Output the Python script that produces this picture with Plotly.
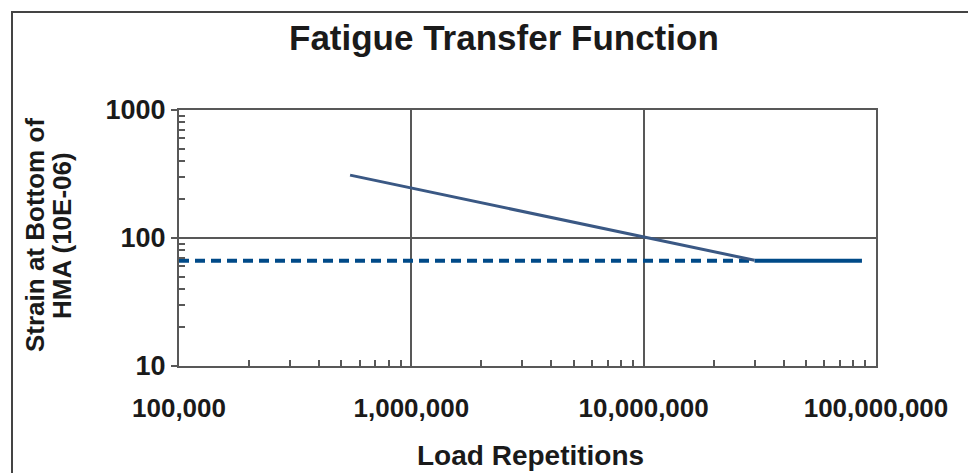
import plotly.graph_objects as go

# Data
load_sloped = [5.45e5, 3.0e7]
strain_sloped = [310, 67]
load_dashed = [1e5, 3.0e7]
strain_dashed = [66.5, 66.5]
load_limit = [3.0e7, 8.7e7]
strain_limit = [66.5, 66.5]

x_tickvals = [1e5, 1e6, 1e7, 1e8]
x_ticktext = ["100,000", "1,000,000", "10,000,000", "100,000,000"]
y_tickvals = [10, 100, 1000]
y_ticktext = ["10", "100", "1000"]

FONT = "Liberation Sans, Arial, sans-serif"
AX = "#585858"
TXT = "#1a1a1a"

x_minor = [m * 10 ** e for e in range(5, 8) for m in range(2, 10)]
y_minor = [m * 10 ** e for e in range(1, 3) for m in range(2, 10)]

fig = go.Figure()
fig.add_trace(go.Scatter(x=load_dashed, y=strain_dashed, mode="lines",
                         line=dict(color="#004a88", width=4, dash="10px,6px"),
                         showlegend=False, hoverinfo="skip"))
fig.add_trace(go.Scatter(x=load_limit, y=strain_limit, mode="lines",
                         line=dict(color="#004a88", width=4),
                         showlegend=False, hoverinfo="skip"))
fig.add_trace(go.Scatter(x=load_sloped, y=strain_sloped, mode="lines",
                         line=dict(color="#3a5884", width=3),
                         showlegend=False, hoverinfo="skip"))

OFF = 8  # page body margin
W, H = 976 - OFF, 473 - OFF
# plot area in page pixels
PL, PR, PT, PB = 179, 876, 110, 366
L, R, T, B = PL - OFF, W - (PR - OFF), PT - OFF, H - (PB - OFF)
pw, ph = W - L - R, H - T - B

def px(xp):
    return (xp - OFF - L) / pw

def py(yp):
    return (H - B - (yp - OFF)) / ph

fig.update_layout(
    width=W, height=H,
    margin=dict(l=L, r=R, t=T, b=B),
    paper_bgcolor="white", plot_bgcolor="white",
    font=dict(family=FONT, color=TXT),
    showlegend=False,
    xaxis=dict(type="log", range=[5, 8], tickvals=x_tickvals, ticktext=x_ticktext,
               showgrid=True, gridcolor=AX, gridwidth=2,
               showline=True, linecolor=AX, linewidth=2, mirror=True,
               ticks="", ticklabelstandoff=18,
               tickfont=dict(size=26, weight="bold", color=TXT),
               minor=dict(tickvals=x_minor, ticks="inside", ticklen=6, tickcolor=AX,
                          tickwidth=1.5, showgrid=False),
               zeroline=False),
    yaxis=dict(type="log", range=[1, 3], tickvals=y_tickvals, ticktext=y_ticktext,
               showgrid=True, gridcolor=AX, gridwidth=2,
               showline=True, linecolor=AX, linewidth=2, mirror=True,
               ticks="outside", ticklen=6, tickcolor=AX, tickwidth=2,
               tickfont=dict(size=27, weight="bold", color=TXT),
               minor=dict(tickvals=y_minor, ticks="inside", ticklen=6, tickcolor=AX,
                          tickwidth=1.5, showgrid=False),
               zeroline=False),
    annotations=[
        dict(text="Fatigue Transfer Function", xref="paper", yref="paper",
             x=px(504), y=py(37), xanchor="center", yanchor="middle", showarrow=False,
             font=dict(size=35, weight="bold", color=TXT, family=FONT)),
        dict(text="Load Repetitions", xref="paper", yref="paper",
             x=px(530), y=py(455), xanchor="center", yanchor="middle", showarrow=False,
             font=dict(size=28, weight="bold", color=TXT, family=FONT)),
        dict(text="Strain at Bottom of", xref="paper", yref="paper",
             x=px(35), y=py(235), xanchor="center", yanchor="middle", showarrow=False,
             textangle=-90,
             font=dict(size=26, weight="bold", color=TXT, family=FONT)),
        dict(text="HMA (10E-06)", xref="paper", yref="paper",
             x=px(62), y=py(235), xanchor="center", yanchor="middle", showarrow=False,
             textangle=-90,
             font=dict(size=26, weight="bold", color=TXT, family=FONT)),
    ],
    shapes=[
        dict(type="rect", xref="paper", yref="paper",
             x0=px(12), x1=px(971), y0=py(495), y1=py(12),
             line=dict(color="#444444", width=2), fillcolor="rgba(0,0,0,0)", layer="below"),
    ],
)

fig.write_html("out.html")
